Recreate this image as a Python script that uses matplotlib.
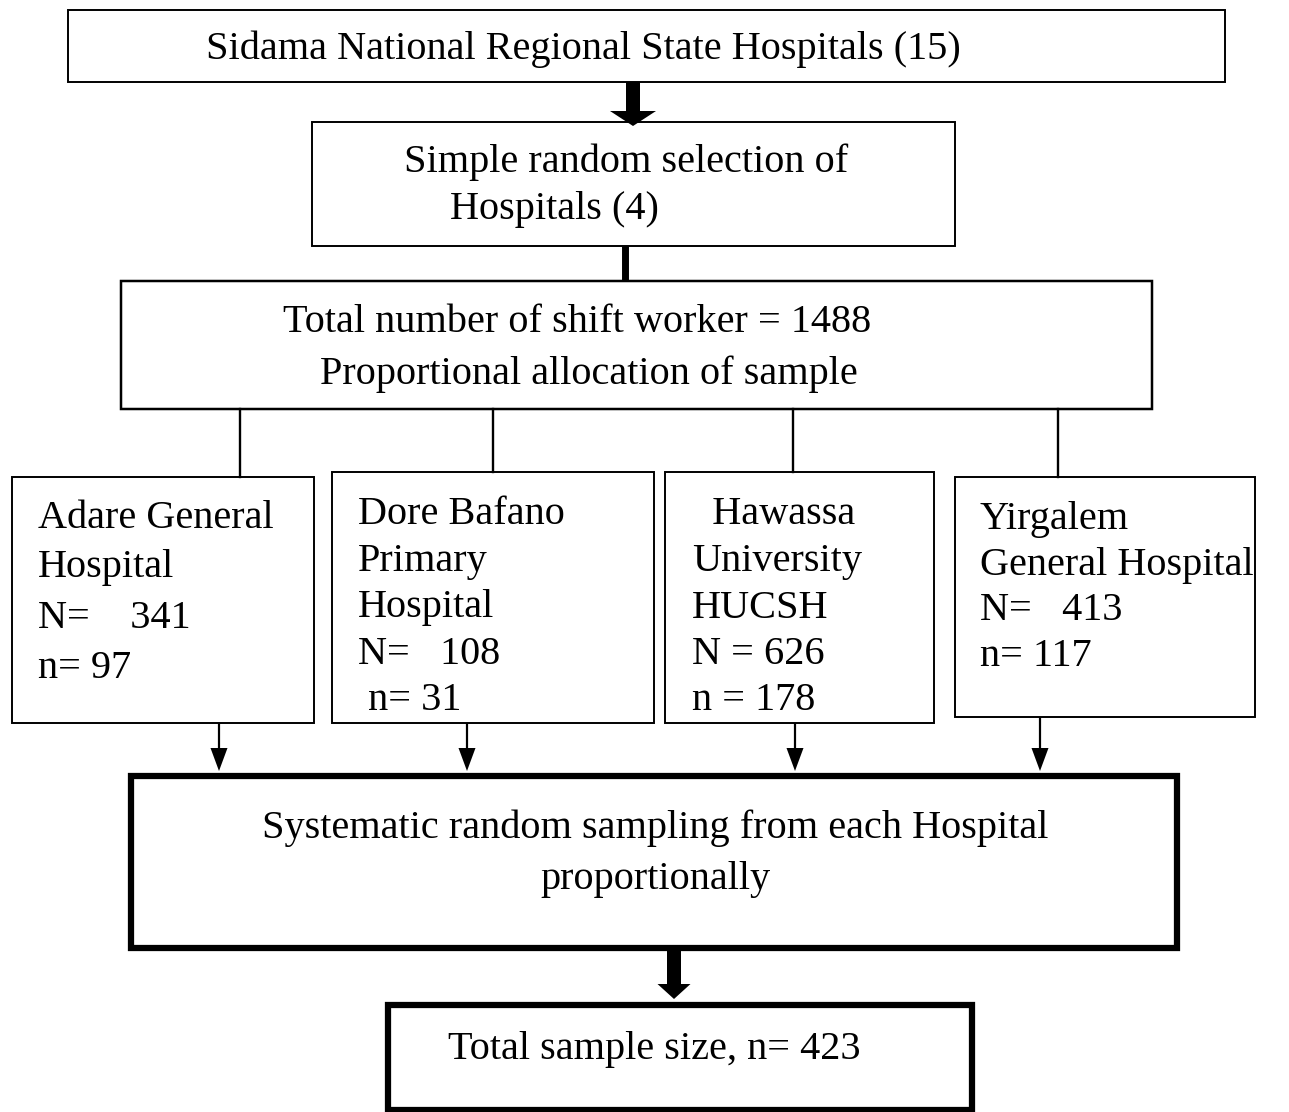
import matplotlib.pyplot as plt
from matplotlib.patches import Rectangle, FancyArrow

# Flowchart texts
title_text = 'Sidama National Regional State Hospitals (15)'
select_lines = ['Simple random selection of', 'Hospitals (4)']
total_lines = ['Total number of shift worker = 1488',
               'Proportional allocation of sample']
hospital_lines = [
    ['Adare General', 'Hospital', 'N=    341', 'n= 97'],
    ['Dore Bafano', 'Primary', 'Hospital', 'N=   108', ' n= 31'],
    ['  Hawassa', 'University', 'HUCSH', 'N = 626', 'n = 178'],
    ['Yirgalem', 'General Hospital', 'N=   413', 'n= 117'],
]
sampling_lines = ['Systematic random sampling from each Hospital',
                  'proportionally']
final_text = 'Total sample size, n= 423'

plt.rcParams['font.family'] = ['Liberation Serif', 'DejaVu Serif']
fs = 29
thin = 1.4
thick = 4.5
dy = 3  # small downward nudge for text baselines

fig = plt.figure(figsize=(12.89, 11.12), dpi=100)
ax = fig.add_axes([0, 0, 1, 1])
ax.set_xlim(0, 1289)
ax.set_ylim(1112, 0)
ax.axis('off')


def box(x0, y0, x1, y1, lw):
    ax.add_patch(Rectangle((x0, y0), x1 - x0, y1 - y0, fill=False,
                           edgecolor='black', linewidth=lw))


def arrow(x, y0, y1, w, hw, hl):
    ax.add_patch(FancyArrow(x, y0, 0, y1 - y0, width=w, head_width=hw,
                            head_length=hl, length_includes_head=True,
                            color='black', linewidth=0))


def label(x, y, s, ha='left'):
    ax.text(x, y + dy, s, fontsize=fs, ha=ha, va='center')


# top box
box(68, 10, 1225, 82, thin)
label(583, 46, title_text, ha='center')
arrow(633, 82, 126, 14, 46, 15)

# selection box
box(312, 122, 955, 246, thin)
label(404, 159, select_lines[0])
label(450, 207, select_lines[1])
ax.plot([625, 625], [246, 281], color='black', linewidth=5,
        solid_capstyle='butt')

# total box
box(121, 281, 1152, 409, thin + 0.4)
label(283, 319, total_lines[0])
label(320, 371, total_lines[1])

# hospital boxes
hosp_boxes = [(12, 477, 314, 723), (332, 472, 654, 723),
              (665, 472, 934, 723), (955, 477, 1255, 717)]
connect_x = [240, 493, 793, 1058]
arrow_x = [219, 467, 795, 1040]
text_x = [38, 358, 692, 980]
text_y0 = [515, 512, 512, 516]
spacing = [50, 46.5, 46.5, 46]
for i, lines in enumerate(hospital_lines):
    x0, y0, x1, y1 = hosp_boxes[i]
    box(x0, y0, x1, y1, thin)
    ax.plot([connect_x[i], connect_x[i]], [409, y0], color='black',
            linewidth=thin + 0.3)
    for k, line in enumerate(lines):
        label(text_x[i], text_y0[i] + k * spacing[i], line)
    arrow(arrow_x[i], y1, 771, 2.2, 17, 23)

# sampling box
box(131, 776, 1177, 948, thick)
label(655, 825, sampling_lines[0], ha='center')
label(655, 877, sampling_lines[1], ha='center')
arrow(674, 948, 999, 14, 33, 15)

# final box
box(388, 1005, 972, 1110, thick)
label(448, 1047, final_text)

fig.savefig('out.png', dpi=100, facecolor='white')
